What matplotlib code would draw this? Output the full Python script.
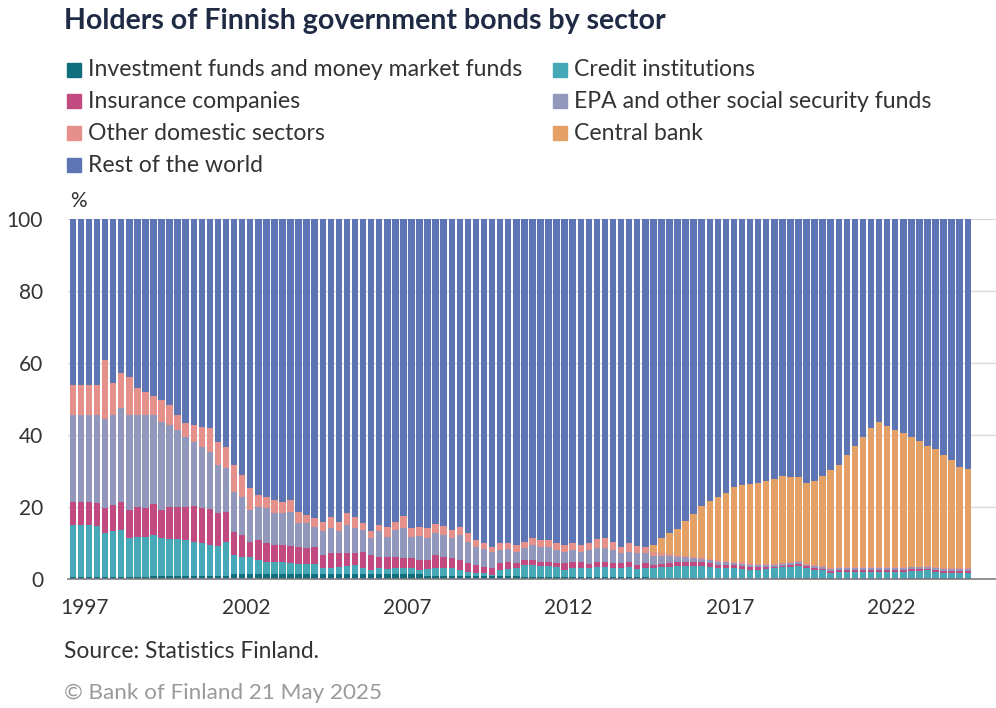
import matplotlib
matplotlib.use("Agg")
import matplotlib.pyplot as plt
from matplotlib.patches import Rectangle
import numpy as np

plt.rcParams['font.family'] = ['Lato', 'DejaVu Sans']

# quarterly observations 1997Q1 .. 2024Q4, shares of holdings in %
tick_years = [1997, 2002, 2007, 2012, 2017, 2022]

investment_funds = (
    [0.6] * 10 + [0.9] * 10 + [1.4] * 24 + [0.8] * 12 + [0.5] * 16 + [0.4] * 40
)
credit_institutions = [
    14.4, 14.4, 14.4, 14.2, 12.2, 12.6, 13.0, 10.7, 11.2, 11.2,
    11.3, 10.4, 10.3, 10.1, 10.0, 9.5, 9.0, 8.5, 8.3, 9.3,
    5.3, 4.8, 4.8, 3.9, 3.4, 3.4, 3.4, 3.1, 2.9, 2.9,
    2.9, 1.6, 1.6, 2.0, 2.2, 2.5, 1.6, 1.1, 1.6, 1.3,
    1.6, 1.6, 1.6, 1.2, 1.9, 2.2, 2.2, 2.2, 1.7, 1.2,
    0.8, 0.8, 0.3, 1.7, 1.9, 2.2, 3.4, 3.4, 3.1, 3.1,
    2.9, 2.0, 2.5, 2.5, 2.5, 2.7, 2.7, 2.5, 2.5, 2.9,
    2.3, 2.5, 2.6, 2.8, 3.0, 3.2, 3.2, 3.2, 3.2, 2.9,
    2.6, 2.6, 2.6, 2.4, 2.2, 2.2, 2.4, 2.6, 2.8, 3.0,
    3.2, 2.6, 2.2, 2.0, 1.4, 1.6, 1.6, 1.6, 1.6, 1.6,
    1.6, 1.6, 1.6, 1.6, 1.8, 1.8, 2.0, 1.6, 1.4, 1.4,
    1.4, 1.4,
]
insurance = [
    6.3, 6.3, 6.3, 6.4, 6.9, 7.3, 7.9, 7.9, 8.1, 7.9,
    8.6, 7.9, 8.9, 9.0, 9.2, 9.8, 9.7, 10.0, 9.0, 8.5,
    6.3, 6.0, 4.2, 5.5, 5.1, 4.6, 4.6, 4.7, 4.5, 4.2,
    4.5, 3.7, 4.1, 3.7, 3.7, 3.2, 4.6, 4.2, 3.2, 3.5,
    3.2, 2.7, 2.7, 2.7, 2.6, 3.7, 3.2, 2.7, 2.8, 2.4,
    2.3, 1.8, 1.9, 2.0, 2.1, 1.5, 1.4, 1.4, 1.2, 1.2,
    1.1, 1.9, 1.8, 1.6, 1.2, 1.6, 1.6, 1.4, 1.4, 1.4,
    1.1, 1.4, 1.0, 1.0, 1.0, 1.0, 1.0, 1.0, 1.0, 1.1,
    1.0, 1.0, 0.8, 0.8, 0.8, 0.8, 0.5, 0.4, 0.4, 0.5,
    0.6, 0.5, 0.5, 0.5, 0.5, 0.5, 0.5, 0.5, 0.5, 0.5,
    0.5, 0.5, 0.5, 0.5, 0.5, 0.5, 0.5, 0.5, 0.5, 0.5,
    0.5, 0.5,
]
epa_social = [
    24.3, 24.3, 24.3, 24.4, 24.7, 25.1, 25.9, 26.4, 25.7, 25.9,
    24.8, 24.5, 22.7, 21.4, 19.4, 17.9, 17.2, 16.0, 13.5, 12.0,
    11.3, 10.7, 8.8, 9.3, 9.7, 8.8, 8.8, 9.5, 6.7, 7.0,
    5.7, 6.5, 7.0, 6.1, 7.7, 7.0, 6.0, 4.6, 7.0, 5.6,
    7.4, 8.4, 6.1, 6.7, 6.0, 6.0, 6.0, 5.6, 6.9, 6.0,
    5.1, 4.8, 4.6, 3.6, 3.4, 3.1, 3.2, 4.1, 4.2, 4.2,
    3.6, 3.2, 3.3, 3.0, 3.8, 3.7, 3.7, 3.6, 2.9, 2.8,
    3.2, 2.7, 2.5, 2.3, 1.9, 1.6, 1.4, 1.2, 0.9, 0.8,
    0.8, 0.6, 0.6, 0.6, 0.6, 0.6, 0.6, 0.6, 0.6, 0.5,
    0.6, 0.5, 0.5, 0.5, 0.5, 0.5, 0.5, 0.5, 0.5, 0.5,
    0.5, 0.5, 0.5, 0.5, 0.5, 0.5, 0.5, 0.5, 0.5, 0.5,
    0.5, 0.5,
]
other_domestic = [
    8.3, 8.3, 8.3, 8.3, 16.4, 8.9, 9.9, 10.4, 7.4, 6.4,
    5.1, 6.0, 5.5, 4.2, 3.7, 4.7, 5.5, 6.5, 6.4, 6.1,
    7.4, 6.0, 6.0, 3.2, 3.3, 3.8, 3.3, 3.3, 3.2, 2.3,
    2.4, 2.7, 3.2, 2.7, 3.2, 3.2, 1.9, 1.9, 1.8, 2.7,
    2.3, 3.4, 2.3, 2.5, 2.8, 2.5, 2.5, 2.3, 2.3, 2.3,
    1.8, 1.7, 1.4, 1.8, 1.7, 1.8, 1.9, 1.9, 1.8, 1.8,
    1.8, 1.8, 1.8, 1.8, 1.9, 2.5, 2.8, 2.4, 1.7, 2.3,
    2.1, 1.9, 1.0, 0.8, 0.7, 0.6, 0.5, 0.4, 0.5, 0.4,
    0.4, 0.4, 0.4, 0.4, 0.4, 0.3, 0.3, 0.3, 0.3, 0.3,
    0.2, 0.3, 0.3, 0.2, 0.2, 0.2, 0.2, 0.2, 0.2, 0.2,
    0.2, 0.2, 0.2, 0.2, 0.2, 0.2, 0.2, 0.2, 0.2, 0.2,
    0.2, 0.2,
]
central_bank = [0.0] * 72 + [
    1.9, 4.2, 5.7, 7.0, 9.5, 11.8, 14.3, 16.2, 17.5, 18.8,
    20.7, 21.4, 21.9, 22.5, 23.0, 23.5, 24.2, 23.6, 23.3, 22.5,
    23.2, 24.9, 27.3, 28.6, 31.3, 33.8, 36.3, 38.8, 40.3, 39.3,
    38.3, 37.3, 36.1, 34.9, 33.4, 32.8, 31.5, 30.0, 28.0, 27.5,
]

series = [
    ("Investment funds and money market funds", investment_funds, "#106f7d"),
    ("Credit institutions", credit_institutions, "#47a9b7"),
    ("Insurance companies", insurance, "#c34a80"),
    ("EPA and other social security funds", epa_social, "#9298bb"),
    ("Other domestic sectors", other_domestic, "#e6908b"),
    ("Central bank", central_bank, "#e4a065"),
]
# rest of the world holds the remainder of the 100 %
domestic_total = np.sum([np.array(s[1]) for s in series], axis=0)
rest_of_world = 100 - domestic_total
series.append(("Rest of the world", rest_of_world, "#5d74b5"))

n = len(investment_funds)
x = np.arange(n)

fig = plt.figure(figsize=(9.96, 7.08), dpi=100)
ax = fig.add_axes([68 / 996, 129 / 708, 928 / 996, 360 / 708])

bottom = np.zeros(n)
for name, vals, color in series:
    vals = np.array(vals, dtype=float)
    ax.bar(x, vals, bottom=bottom, width=0.8, color=color, linewidth=0, zorder=2)
    bottom += vals

ax.set_xlim(-0.6, 114.5)
ax.set_ylim(0, 100)
ax.set_yticks([0, 20, 40, 60, 80, 100])
ax.grid(axis='y', color='#d9d9d9', linewidth=1, zorder=0)
ax.set_xticks([1.5 + 4 * (y - 1997) for y in tick_years])
ax.set_xticklabels([str(y) for y in tick_years])
ax.tick_params(axis='both', length=0, labelsize=15, colors='#333333')
ax.tick_params(axis='x', pad=14)
ax.tick_params(axis='y', pad=18)
for side in ['top', 'right', 'left']:
    ax.spines[side].set_visible(False)
ax.spines['bottom'].set_color('#7f7f7f')
ax.spines['bottom'].set_linewidth(1.2)
ax.spines['bottom'].set_zorder(3)

fig.text(70 / 996, 1 - 201 / 708, "%", fontsize=15, color='#333333', va='center', ha='left')

fig.text(64 / 996, 1 - 21 / 708, "Holders of Finnish government bonds by sector",
         fontsize=20.5, fontweight='bold', color='#1f2a44', va='center', ha='left')

# legend, two columns
legend_pos = [(67, 70), (553, 70), (67, 101), (553, 101), (67, 133), (553, 133), (67, 165)]
for (px, py), (name, _, color) in zip(legend_pos, series):
    fig.patches.append(Rectangle((px / 996, 1 - (py + 7) / 708), 14 / 996, 14 / 708,
                                 transform=fig.transFigure, color=color, zorder=3))
    fig.text((px + 21) / 996, 1 - py / 708, name, fontsize=16.6, color='#333333',
             va='center', ha='left')

fig.text(64 / 996, 1 - 652 / 708, "Source: Statistics Finland.", fontsize=16.4,
         color='#333333', va='center', ha='left')
fig.text(64 / 996, 1 - 693 / 708, "\u00a9 Bank of Finland 21 May 2025", fontsize=16.2,
         color='#9a9a9a', va='center', ha='left')

fig.savefig("out.png", dpi=100)
